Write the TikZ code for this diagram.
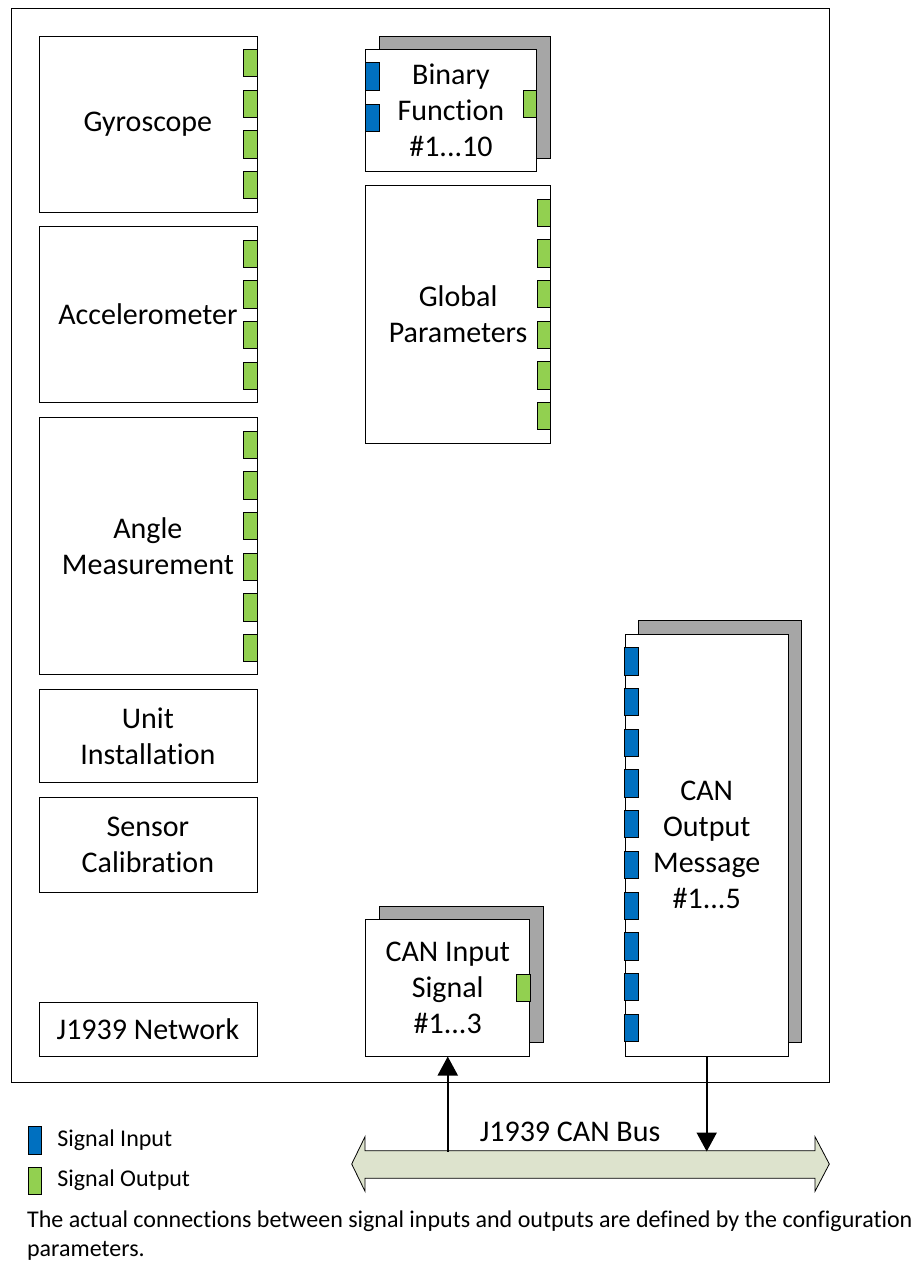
\documentclass[tikz,border=0pt]{standalone}
\usepackage{fontspec}
\setmainfont{Carlito}[Ligatures=NoCommon]
\usetikzlibrary{arrows.meta}
\usetikzlibrary{calc}

\definecolor{sigin}{RGB}{0,112,192}
\definecolor{sigout}{RGB}{146,208,80}
\definecolor{stackgray}{RGB}{166,166,166}
\definecolor{busfill}{RGB}{221,227,205}

\def\pxu{0.5pt}

\tikzset{
  boxsize/.style 2 args={minimum width=#1*\pxu, minimum height=#2*\pxu},
  block/.style={draw, fill=white, inner sep=0pt, anchor=north west, align=center, font=\fontsize{15}{18}\selectfont},
  stack/.style={draw, fill=stackgray, inner sep=0pt, anchor=north west},
  inport/.style={draw, fill=sigin},
  outport/.style={draw, fill=sigout},
  link/.style={line width=1pt, -{Triangle[width=10pt,length=9.5pt]}},
  small/.style={font=\fontsize{12}{14.6}\selectfont, inner sep=0pt}
}

\begin{document}
\begin{tikzpicture}[x=0.5pt,y=-0.5pt]

\def\portw{13.5}
\def\porth{27.3}
\def\pitch{40.7}

\useasboundingbox (0,0) rectangle (912,1261);

\draw[line width=0.6pt] (11.7,8.5) rectangle (829.5,1082.5);

% left column
\node[block, boxsize={218}{176}] (gyro) at (38.5,36) {Gyroscope};
\node[block, boxsize={218}{176}] (accel) at (38.5,226) {Accelerometer};
\node[block, boxsize={218}{257}] (angle) at (38.5,417) {Angle\\Measurement};
\node[block, boxsize={218}{93}] (unit) at (38.5,689) {Unit\\Installation};
\node[block, boxsize={218}{95}] (sensor) at (38.5,797) {Sensor\\Calibration};
\node[block, boxsize={218}{54}] (network) at (38.5,1002) {J1939 Network};

\foreach \i in {0,...,3}
  \draw[outport] ($(gyro.north east)+(-\portw,{13.3+\pitch*\i})$) rectangle ++(\portw,\porth);
\foreach \i in {0,...,3}
  \draw[outport] ($(accel.north east)+(-\portw,{14+\pitch*\i})$) rectangle ++(\portw,\porth);
\foreach \i in {0,...,5}
  \draw[outport] ($(angle.north east)+(-\portw,{14+\pitch*\i})$) rectangle ++(\portw,\porth);

% middle column
\node[stack, boxsize={170.3}{122}] (binaryback) at (379.4,36) {};
\node[block, boxsize={170.3}{122}] (binary) at (365.4,49.3) {Binary\\Function\\\#1...10};
\draw[inport] ($(binary.north west)+(0,13.4)$) rectangle ++(\portw,\porth);
\draw[inport] ($(binary.north west)+(0,54.7)$) rectangle ++(\portw,\porth);
\draw[outport] ($(binary.north east)+(-\portw,40.7)$) rectangle ++(\portw,\porth);

\node[block, boxsize={184.6}{257.7}] (global) at (365.4,185.3) {Global\\Parameters};
\foreach \i in {0,...,5}
  \draw[outport] ($(global.north east)+(-\portw,{13.7+\pitch*\i})$) rectangle ++(\portw,\porth);

\node[stack, boxsize={164.1}{136.4}] (caninback) at (379.3,905.7) {};
\node[block, boxsize={164.1}{136.4}] (canin) at (365.3,919.3) {CAN Input\\Signal\\\#1...3};
\draw[outport] ($(canin.north east)+(-\portw,54.7)$) rectangle ++(\portw,\porth);

% right column
\node[stack, boxsize={163}{422}] (canoutback) at (638.3,620.3) {};
\node[block, boxsize={163}{422}] (canout) at (624.8,633.7) {CAN\\Output\\Message\\\#1...5};
\foreach \i in {0,...,9}
  \draw[inport] ($(canout.north west)+(0,{14+\pitch*\i})$) rectangle ++(\portw,\porth);

% bus
\draw[fill=busfill] (351.7,1164) -- (365,1136.7) -- (365,1150.7) -- (815,1150.7) -- (815,1136.7)
  -- (829.3,1164) -- (815,1191.3) -- (815,1178.3) -- (365,1178.3) -- (365,1191.3) -- cycle;
\node[font=\fontsize{15}{18}\selectfont] (buslabel) at (570,1132) {J1939 CAN Bus};

\coordinate (busin) at ($(canin.south)+(0,95)$);
\coordinate (busout) at ($(canout.south)+(0,95)$);
\draw[link] (busin) -- (canin.south);
\draw[link] (canout.south) -- (busout);

% legend
\draw[inport] (28,1126.7) rectangle ++(\portw,\porth);
\node[small, anchor=west] (leginput) at (57,1140) {Signal Input};
\draw[outport] (28,1167) rectangle ++(\portw,\porth);
\node[small, anchor=west] (legoutput) at (57,1180.5) {Signal Output};

\node[small, anchor=north west, align=left] (note) at (26.7,1210.5)
  {The actual connections between signal inputs and outputs are defined by the configuration\\parameters.};

\end{tikzpicture}
\end{document}
